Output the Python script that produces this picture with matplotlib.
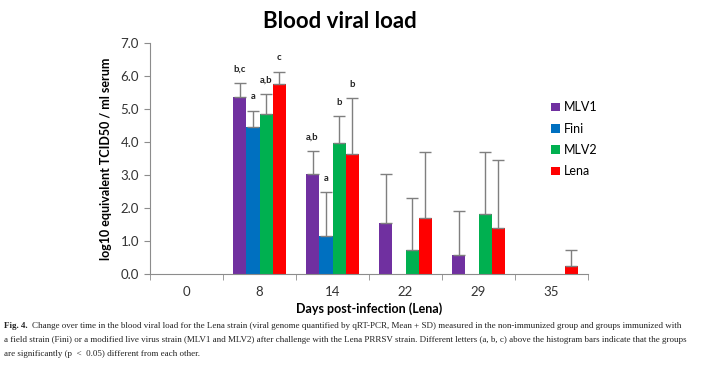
import numpy as np
import matplotlib
matplotlib.use("Agg")
import matplotlib.pyplot as plt

# data
days = ["0", "8", "14", "22", "29", "35"]
groups = ["MLV1", "Fini", "MLV2", "Lena"]
colors = ["#7030A0", "#0070C0", "#00B050", "#FF0000"]

mlv1_mean = [0, 5.36, 3.04, 1.56, 0.58, 0]
fini_mean = [0, 4.45, 1.14, 0, 0, 0]
mlv2_mean = [0, 4.85, 3.96, 0.72, 1.83, 0]
lena_mean = [0, 5.76, 3.64, 1.70, 1.38, 0.24]

mlv1_sd = [0, 0.42, 0.70, 1.47, 1.34, 0]
fini_sd = [0, 0.50, 1.34, 0, 0, 0]
mlv2_sd = [0, 0.60, 0.82, 1.58, 1.87, 0]
lena_sd = [0, 0.37, 1.69, 2.00, 2.07, 0.50]

mlv1_letters = ["", "b,c", "a,b", "", "", ""]
fini_letters = ["", "a", "a", "", "", ""]
mlv2_letters = ["", "a,b", "b", "", "", ""]
lena_letters = ["", "c", "b", "", "", ""]

means = [mlv1_mean, fini_mean, mlv2_mean, lena_mean]
sds = [mlv1_sd, fini_sd, mlv2_sd, lena_sd]
letters = [mlv1_letters, fini_letters, mlv2_letters, lena_letters]

plt.rcParams['font.family'] = ['Lato', 'DejaVu Sans']

fig = plt.figure(figsize=(7.07, 3.67), dpi=100)
ax = fig.add_axes([150 / 707, 1 - 274 / 367, 438 / 707, 231 / 367])

x = np.arange(len(days))
w = 0.182
for i in range(4):
    pos = x + (i - 1.5) * w
    m = np.array(means[i])
    s = np.array(sds[i])
    ax.bar(pos, m, width=w, color=colors[i], label=groups[i], zorder=2)
    has = s > 0
    ax.errorbar(pos[has], m[has], yerr=[np.zeros(has.sum()), s[has]], fmt="none",
                ecolor="#7f7f7f", elinewidth=1, capsize=4, capthick=1, zorder=3)
    for j in range(len(days)):
        if letters[i][j]:
            ax.text(pos[j], m[j] + s[j] + 0.28, letters[i][j], ha="center", va="bottom",
                    fontsize=6.8, fontweight="bold", color="#222222")

ax.set_xlim(-0.5, 5.5)
ax.set_ylim(0, 7)
ax.set_yticks(np.arange(0, 7.5, 1.0))
ax.set_yticklabels([f"{v:.1f}" for v in np.arange(0, 7.5, 1.0)], fontsize=9.5, color="#333333")
ax.set_xticks(x)
ax.set_xticklabels(days, fontsize=9.5, color="#333333")
ax.set_xticks(np.arange(-0.5, 6.0, 1.0), minor=True)
ax.tick_params(axis="x", which="major", length=0, pad=9)
ax.tick_params(axis="x", which="minor", length=4, color="#8c8c8c", direction="out")
ax.tick_params(axis="y", length=4, color="#8c8c8c", direction="out", pad=4)
for sp in ["top", "right"]:
    ax.spines[sp].set_visible(False)
for sp in ["left", "bottom"]:
    ax.spines[sp].set_color("#8c8c8c")

ax.set_ylabel("log10 equivalent TCID50 / ml serum", fontsize=9, fontweight="bold", labelpad=6)
ax.set_xlabel("Days post-infection (Lena)", fontsize=9, fontweight="bold", labelpad=3)

fig.text(340 / 707, 1 - 22 / 367, "Blood viral load", ha="center", va="center",
         fontsize=16, fontweight="bold")

# legend
leg = ax.legend(loc="upper left", bbox_to_anchor=(540 / 707, 1 - 90 / 367),
                bbox_transform=fig.transFigure, frameon=False, fontsize=9,
                handlelength=0.7, handleheight=0.7, handletextpad=0.3, labelspacing=0.75)

serif = ["Liberation Serif", "DejaVu Serif"]
cap_size = 6.5
cap_lines = [
    "Change over time in the blood viral load for the Lena strain (viral genome quantified by qRT-PCR, Mean + SD) measured in the non-immunized group and groups immunized with",
    "a field strain (Fini) or a modified live virus strain (MLV1 and MLV2) after challenge with the Lena PRRSV strain. Different letters (a, b, c) above the histogram bars indicate that the groups",
    "are significantly (p  <  0.05) different from each other.",
]
cap_y = [326, 340, 354]

fig.canvas.draw()
r = fig.canvas.get_renderer()
lab = fig.text(4 / 707, 1 - cap_y[0] / 367, "Fig. 4.", ha="left", va="center",
               fontsize=cap_size, fontweight="bold", family=serif, color="#222222")
bb = lab.get_window_extent(renderer=r)
x_after = (bb.x1 + 4) / fig.bbox.width
for k, (t, yy) in enumerate(zip(cap_lines, cap_y)):
    fig.text(x_after if k == 0 else 4 / 707, 1 - yy / 367, t, ha="left", va="center",
             fontsize=cap_size, family=serif, color="#222222")

fig.savefig("out.png", dpi=100)
